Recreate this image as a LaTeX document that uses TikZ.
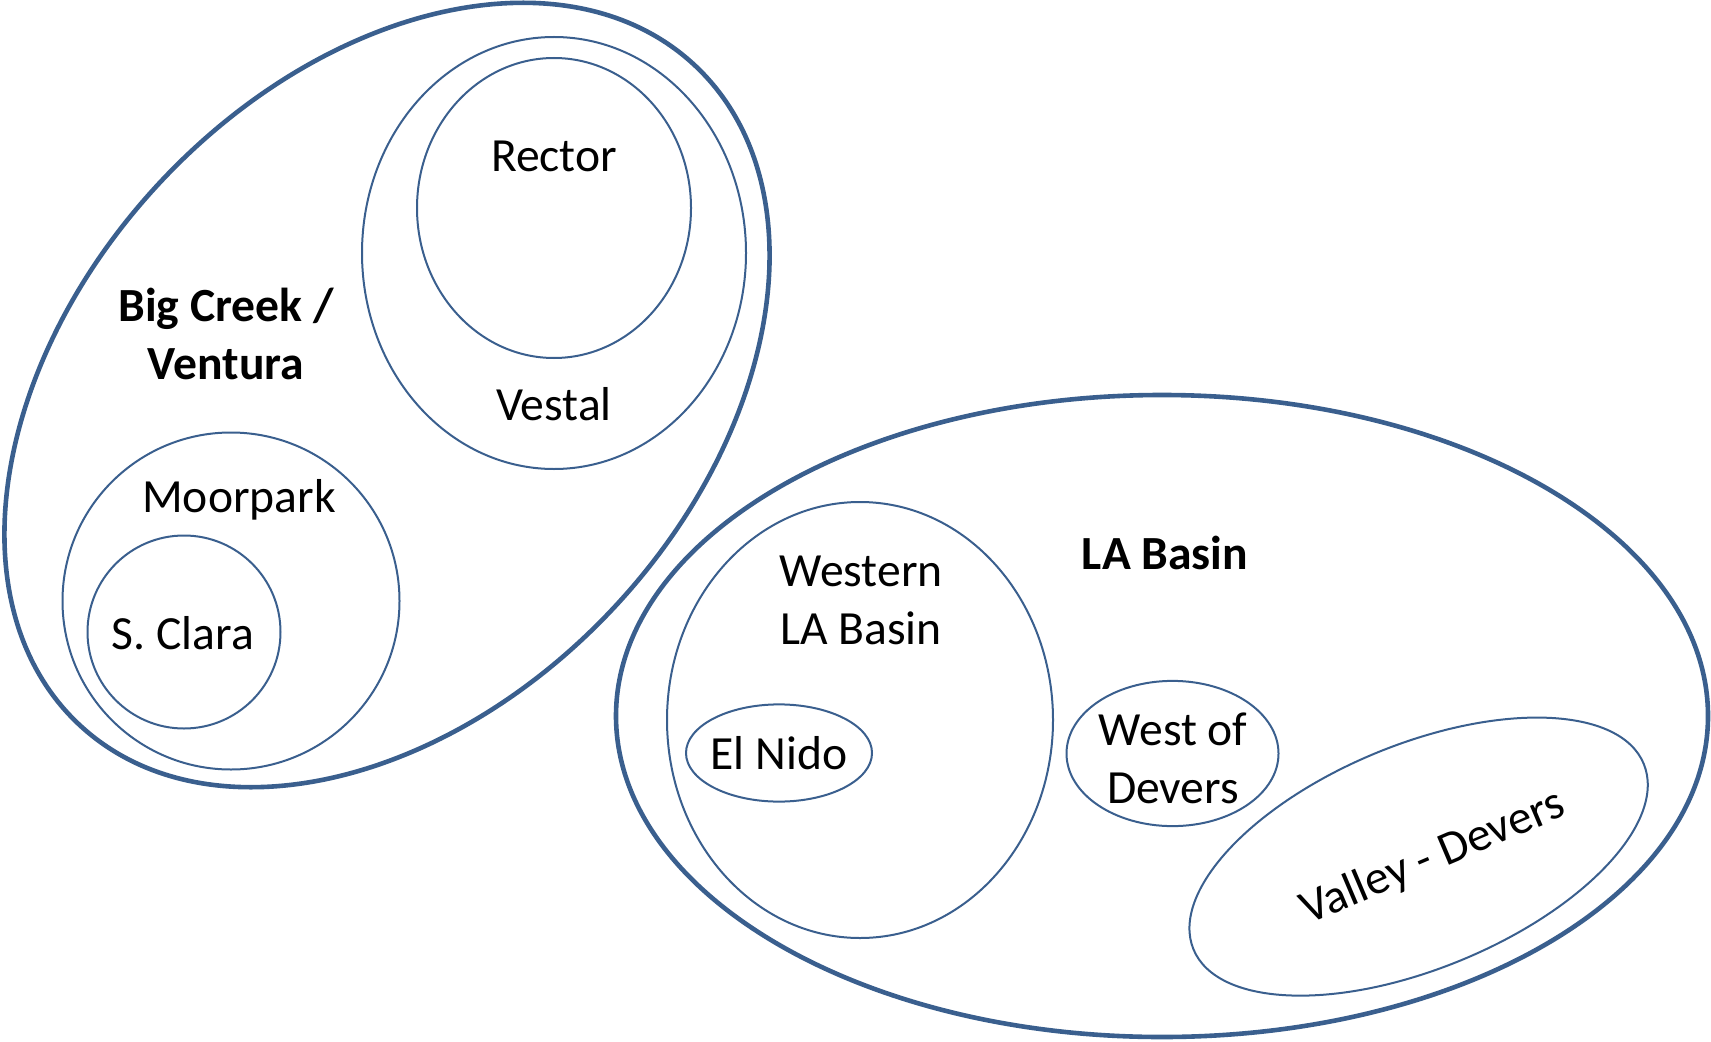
\documentclass[tikz,border=0pt]{standalone}
\usepackage{fontspec}
\setmainfont{Carlito}
\definecolor{lineblue}{HTML}{3A5F8E}

\begin{document}
\begin{tikzpicture}[x=0.5pt,y=0.5pt,
  group/.style={draw=lineblue,line width=2.3pt},
  region/.style={draw=lineblue,line width=1pt},
  lbl/.style={font=\fontsize{23.8}{29}\selectfont,align=center,inner sep=0pt}]

\useasboundingbox (0,0) rectangle (1711,1041);

%====================================================
% Big Creek / Ventura
%====================================================
\draw[group] (387,646) ellipse[x radius=451,y radius=311,rotate=47];

% Vestal and Rector
\draw[region] (554,788) ellipse[x radius=192,y radius=216];
\draw[region] (554,833) ellipse[x radius=137,y radius=150];
\node[lbl] (rector) at (554,885) {Rector};
\node[lbl] (vestal) at (554,637) {Vestal};

% Moorpark and S. Clara
\draw[region] (231,440) circle[radius=168.5];
\draw[region] (184,409) circle[radius=96.5];
\node[lbl] (moorpark) at (239,541) {Moorpark};
\node[lbl] (sclara) at (183,408) {S. Clara};

\node[lbl,font=\fontsize{23.8}{29}\selectfont\bfseries] (bigcreek) at (226,707) {Big Creek /\\Ventura};

%====================================================
% LA Basin
%====================================================
\draw[group] (1162,325) ellipse[x radius=546,y radius=321];
\node[lbl,font=\fontsize{23.8}{29}\selectfont\bfseries] (labasin) at (1165,488) {LA Basin};

% Western LA Basin and El Nido
\draw[region] (860,321) ellipse[x radius=193,y radius=218];
\node[lbl] (western) at (861,441) {Western\\LA Basin};
\draw[region] (779,288) ellipse[x radius=93,y radius=48.6];
\node[lbl] (elnido) at (779,288) {El Nido};

% West of Devers
\draw[region] (1172.5,287.5) ellipse[x radius=106,y radius=72.6];
\node[lbl] (westdevers) at (1173,283) {West of\\Devers};

% Valley - Devers
\draw[region] (1418.6,184.4) ellipse[x radius=243.5,y radius=112,rotate=22.4];
\node[lbl,rotate=23] (valley) at (1433,183) {Valley - Devers};

\end{tikzpicture}
\end{document}
